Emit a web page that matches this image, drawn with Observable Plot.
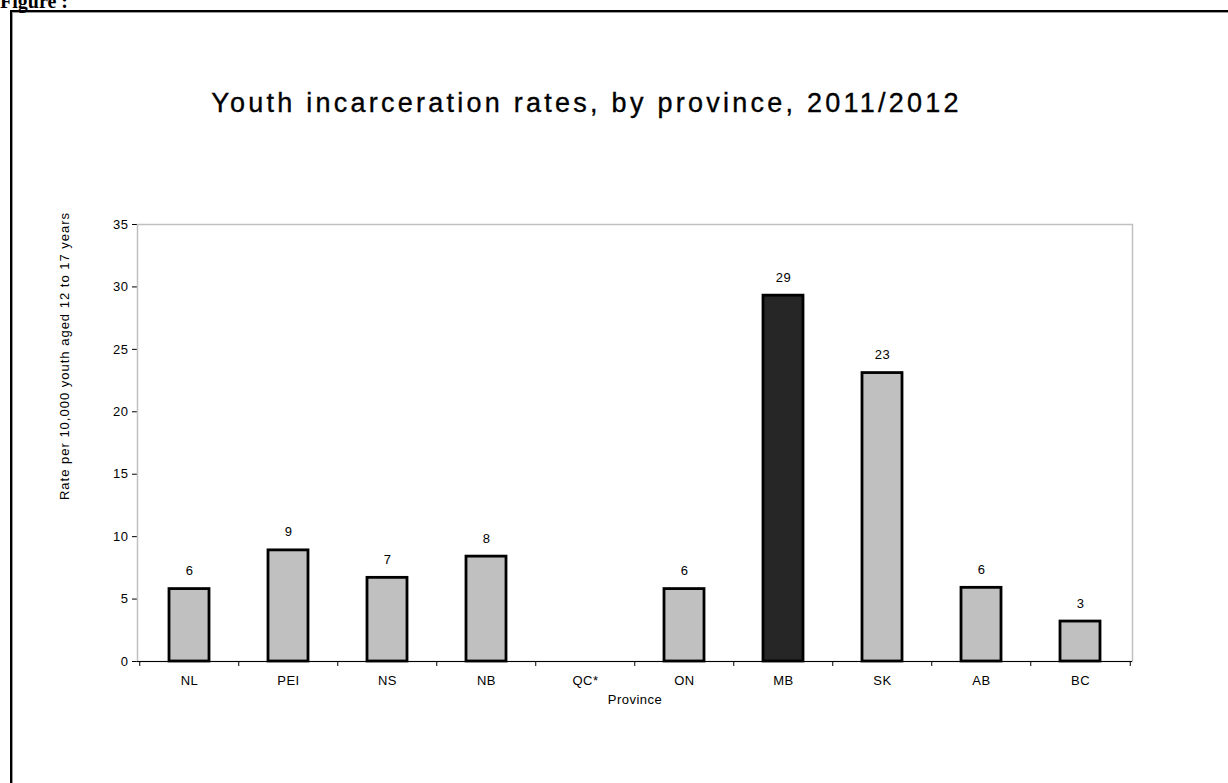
<!DOCTYPE html>
<html>
<head>
<meta charset="utf-8">
<script src="https://cdn.jsdelivr.net/npm/d3@7"></script>
<script src="https://cdn.jsdelivr.net/npm/@observablehq/plot@0.6"></script>
<style>
  html, body { margin: 0; padding: 0; background: #fff; }
  #page { position: relative; width: 1228px; height: 783px; overflow: hidden; background: #fff; }
  #fig { position: absolute; left: 0; top: -9px; font: bold 20px/20px "Liberation Serif", "Times New Roman", serif; color: #000; }
  #box { position: absolute; left: 10px; top: 10px; width: 3000px; height: 3000px;
         border-left: 2px solid #000; border-top: 2px solid #000;
         box-shadow: inset 1px 1px 0 #9a9a9a; }
  #title { position: absolute; left: 0; top: 88px; width: 1173px; text-align: center;
           font: 27px/30px "Liberation Sans", Arial, sans-serif; letter-spacing: 3.25px; color: #000; white-space: nowrap;
           -webkit-text-stroke: 0.35px #000; }
  #ylab { position: absolute; left: 65px; top: 356px; transform: translate(-50%, -50%) rotate(-90deg);
          font: 13px/16px "Liberation Sans", Arial, sans-serif; letter-spacing: 1px; white-space: nowrap; color: #000; }
  #chart { position: absolute; left: 0; top: 0; }
</style>
</head>
<body>
<div id="page">
  <div id="box"></div>
  <div id="fig">Figure :</div>
  <div id="title">Youth incarceration rates, by province, 2011/2012</div>
  <div id="chart"></div>
  <div id="ylab">Rate per 10,000 youth aged 12 to 17 years</div>
</div>
<script>
const provinces = ["NL", "PEI", "NS", "NB", "QC*", "ON", "MB", "SK", "AB", "BC"];
const rates = [5.8, 8.9, 6.7, 8.4, null, 5.8, 29.3, 23.1, 5.9, 3.2];
const highlighted = ["MB"];
const yTicks = [0, 5, 10, 15, 20, 25, 30, 35];
const xTitle = "Province";

const data = provinces.map((p, i) => ({province: p, rate: rates[i]}));
const withValue = data.filter(d => d.rate != null);

const W = 1228, H = 783, ml = 137, mr = 96, mt = 224, mb = 122;
const plotW = W - ml - mr, plotH = H - mt - mb;
const step = plotW / provinces.length;

const chart = Plot.plot({
  width: W, height: H,
  marginLeft: ml, marginRight: mr, marginTop: mt, marginBottom: mb,
  style: {fontFamily: "'Liberation Sans', Arial, sans-serif", fontSize: "13px", letterSpacing: "0.5px", background: "transparent", color: "#000", overflow: "visible"},
  x: {domain: provinces, paddingInner: 0.6, paddingOuter: 0.3, tickSize: 0, tickPadding: 14, label: xTitle, labelAnchor: "center", labelOffset: 42},
  y: {domain: [0, 35], ticks: yTicks, tickSize: 5, tickPadding: 4, line: true, label: null},
  color: {domain: [false, true], range: ["#c0c0c0", "#262626"]},
  marks: [
    Plot.frame({stroke: "#c0c0c0", strokeWidth: 1.5}),
    Plot.barY(withValue, {x: "province", y: "rate", fill: d => highlighted.includes(d.province), stroke: "#000", strokeWidth: 2.8}),
    Plot.ruleY([0], {stroke: "#000", strokeWidth: 1.2}),
    Plot.ruleX(provinces, {x: d => d, dx: -step / 2, insetTop: plotH, insetBottom: -5, stroke: "#000"}),
    Plot.ruleX(provinces.slice(-1), {x: d => d, dx: step / 2, insetTop: plotH, insetBottom: -5, stroke: "#000"}),
    Plot.text(withValue, {x: "province", y: "rate", text: d => d3.format(".0f")(d.rate), lineAnchor: "bottom", dy: -14, fontSize: 13, fill: "#000"})
  ]
});
document.getElementById("chart").appendChild(chart);
</script>
</body>
</html>
